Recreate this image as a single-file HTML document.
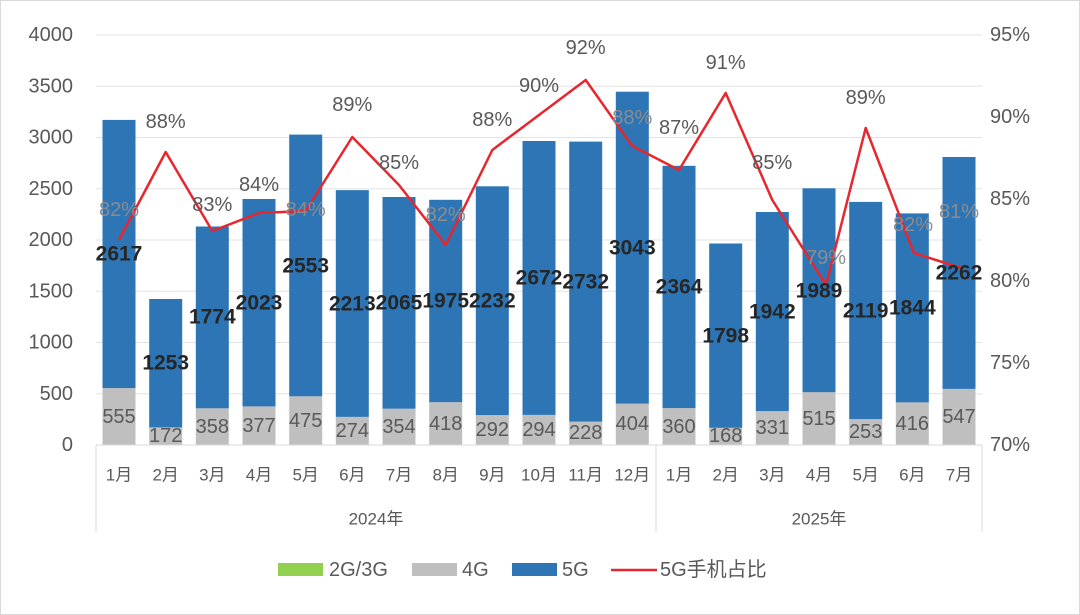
<!DOCTYPE html>
<html><head><meta charset="utf-8"><style>
html,body{margin:0;padding:0;background:#fff;}
svg{display:block;font-family:"Liberation Sans","Noto Sans CJK SC",sans-serif;}
.t{fill:#595959;font-size:20px;}
.b{fill:#262626;font-size:21px;font-weight:bold;}
.g{fill:#595959;font-size:20px;}
.p{fill:#595959;font-size:20px;}
</style></head><body>
<svg width="1080" height="615" viewBox="0 0 1080 615">
<rect x="0.5" y="0.5" width="1079" height="614" fill="#fff" stroke="#d9d9d9"/>
<g stroke="#e3e3e3" stroke-width="1">
<line x1="96" y1="35" x2="982" y2="35"/><line x1="96" y1="86.3" x2="982" y2="86.3"/>
<line x1="96" y1="137.5" x2="982" y2="137.5"/><line x1="96" y1="188.8" x2="982" y2="188.8"/>
<line x1="96" y1="240" x2="982" y2="240"/><line x1="96" y1="291.3" x2="982" y2="291.3"/>
<line x1="96" y1="342.5" x2="982" y2="342.5"/><line x1="96" y1="393.8" x2="982" y2="393.8"/>
</g>
<g class="t" text-anchor="end" dominant-baseline="central">
<text x="73" y="35">4000</text><text x="73" y="86.3">3500</text><text x="73" y="137.5">3000</text>
<text x="73" y="188.8">2500</text><text x="73" y="240">2000</text><text x="73" y="291.3">1500</text>
<text x="73" y="342.5">1000</text><text x="73" y="393.8">500</text><text x="73" y="445">0</text>
</g>
<g class="t" dominant-baseline="central">
<text x="990" y="35">95%</text><text x="990" y="117">90%</text><text x="990" y="199">85%</text>
<text x="990" y="281">80%</text><text x="990" y="363">75%</text><text x="990" y="445">70%</text>
</g>
<g fill="#bfbfbf">
<rect x="102.5" y="388.1" width="33" height="56.9"/><rect x="149.2" y="427.4" width="33" height="17.6"/>
<rect x="195.8" y="408.3" width="33" height="36.7"/><rect x="242.5" y="406.4" width="33" height="38.6"/>
<rect x="289.2" y="396.3" width="33" height="48.7"/><rect x="335.8" y="416.9" width="33" height="28.1"/>
<rect x="382.5" y="408.7" width="33" height="36.3"/><rect x="429.2" y="402.2" width="33" height="42.8"/>
<rect x="475.8" y="415.1" width="33" height="29.9"/><rect x="522.5" y="414.9" width="33" height="30.1"/>
<rect x="569.2" y="421.6" width="33" height="23.4"/><rect x="615.8" y="403.6" width="33" height="41.4"/>
<rect x="662.5" y="408.1" width="33" height="36.9"/><rect x="709.2" y="427.8" width="33" height="17.2"/>
<rect x="755.8" y="411.1" width="33" height="33.9"/><rect x="802.5" y="392.2" width="33" height="52.8"/>
<rect x="849.2" y="419.1" width="33" height="25.9"/><rect x="895.8" y="402.4" width="33" height="42.6"/>
<rect x="942.5" y="388.9" width="33" height="56.1"/>
</g>
<g fill="#2e75b6">
<rect x="102.5" y="119.9" width="33" height="268.2"/><rect x="149.2" y="299" width="33" height="128.4"/>
<rect x="195.8" y="226.5" width="33" height="181.8"/><rect x="242.5" y="199" width="33" height="207.4"/>
<rect x="289.2" y="134.6" width="33" height="261.7"/><rect x="335.8" y="190.1" width="33" height="226.8"/>
<rect x="382.5" y="197" width="33" height="211.7"/><rect x="429.2" y="199.8" width="33" height="202.4"/>
<rect x="475.8" y="186.3" width="33" height="228.8"/><rect x="522.5" y="141" width="33" height="273.9"/>
<rect x="569.2" y="141.6" width="33" height="280"/><rect x="615.8" y="91.7" width="33" height="311.9"/>
<rect x="662.5" y="165.8" width="33" height="242.3"/><rect x="709.2" y="243.5" width="33" height="184.3"/>
<rect x="755.8" y="212" width="33" height="199.1"/><rect x="802.5" y="188.3" width="33" height="203.9"/>
<rect x="849.2" y="201.9" width="33" height="217.2"/><rect x="895.8" y="213.4" width="33" height="189"/>
<rect x="942.5" y="157" width="33" height="231.9"/>
</g>
<line x1="96" y1="445" x2="982" y2="445" stroke="#d9d9d9"/>
<g stroke="#d9d9d9"><line x1="96" y1="445" x2="96" y2="532"/><line x1="656" y1="445" x2="656" y2="532"/><line x1="982" y1="445" x2="982" y2="532"/></g>
<polyline fill="none" stroke="#e8262d" stroke-width="2.5" stroke-linejoin="round" points="119,240 165.7,152 212.3,231 259,213 305.7,211 352.3,137 399,185 445.7,245 492.3,150 539,115 585.7,80 632.3,146 679,170 725.7,93 772.3,200 826,285 865.7,128 914,253 961,268"/>
<g class="p" text-anchor="middle" dominant-baseline="central">
<text x="119" y="210" fill="#8c8c8c">82%</text><text x="165.7" y="122">88%</text><text x="212.3" y="205">83%</text>
<text x="259" y="185">84%</text><text x="305.7" y="210" fill="#8c8c8c">84%</text><text x="352.3" y="105">89%</text>
<text x="399" y="163">85%</text><text x="445.7" y="215" fill="#8c8c8c">82%</text><text x="492.3" y="120">88%</text>
<text x="539" y="86">90%</text><text x="585.7" y="48">92%</text><text x="632.3" y="118" fill="#8c8c8c">88%</text>
<text x="679" y="128">87%</text><text x="725.7" y="63">91%</text><text x="772.3" y="163">85%</text>
<text x="826" y="258" fill="#8c8c8c">79%</text><text x="865.7" y="98">89%</text><text x="913" y="225" fill="#8c8c8c">82%</text>
<text x="959" y="212" fill="#8c8c8c">81%</text>
</g>
<g class="b" text-anchor="middle" dominant-baseline="central">
<text x="119" y="254">2617</text><text x="165.7" y="363">1253</text><text x="212.3" y="317">1774</text>
<text x="259" y="303">2023</text><text x="305.7" y="266">2553</text><text x="352.3" y="304">2213</text>
<text x="399" y="303">2065</text><text x="445.7" y="301">1975</text><text x="492.3" y="301">2232</text>
<text x="539" y="278">2672</text><text x="585.7" y="282">2732</text><text x="632.3" y="248">3043</text>
<text x="679" y="287">2364</text><text x="725.7" y="336">1798</text><text x="772.3" y="312">1942</text>
<text x="819" y="291">1989</text><text x="865.7" y="311">2119</text><text x="912.3" y="308">1844</text>
<text x="959" y="273">2262</text>
</g>
<g class="g" text-anchor="middle" dominant-baseline="central">
<text x="119" y="417">555</text><text x="165.7" y="436">172</text><text x="212.3" y="427">358</text>
<text x="259" y="426">377</text><text x="305.7" y="421">475</text><text x="352.3" y="431">274</text>
<text x="399" y="427">354</text><text x="445.7" y="424">418</text><text x="492.3" y="430">292</text>
<text x="539" y="430">294</text><text x="585.7" y="433">228</text><text x="632.3" y="424">404</text>
<text x="679" y="427">360</text><text x="725.7" y="436">168</text><text x="772.3" y="428">331</text>
<text x="819" y="419">515</text><text x="865.7" y="432">253</text><text x="912.3" y="424">416</text>
<text x="959" y="417">547</text>
</g>
<g class="t" text-anchor="middle" dominant-baseline="central" style="font-size:17px">
<text x="119" y="475">1月</text><text x="165.7" y="475">2月</text><text x="212.3" y="475">3月</text>
<text x="259" y="475">4月</text><text x="305.7" y="475">5月</text><text x="352.3" y="475">6月</text>
<text x="399" y="475">7月</text><text x="445.7" y="475">8月</text><text x="492.3" y="475">9月</text>
<text x="539" y="475">10月</text><text x="585.7" y="475">11月</text><text x="632.3" y="475">12月</text>
<text x="679" y="475">1月</text><text x="725.7" y="475">2月</text><text x="772.3" y="475">3月</text>
<text x="819" y="475">4月</text><text x="865.7" y="475">5月</text><text x="912.3" y="475">6月</text>
<text x="959" y="475">7月</text>
<text x="376" y="519">2024年</text><text x="819" y="519">2025年</text>
</g>
<rect x="278" y="563" width="45" height="13" fill="#92d050"/>
<rect x="412" y="563" width="45" height="13" fill="#bfbfbf"/>
<rect x="512" y="563" width="45" height="13" fill="#2e75b6"/>
<line x1="611" y1="570" x2="657" y2="570" stroke="#e8262d" stroke-width="2.5"/>
<g class="t" dominant-baseline="central">
<text x="329" y="570">2G/3G</text><text x="462" y="570">4G</text><text x="562" y="570">5G</text><text x="660" y="570">5G手机占比</text>
</g>
</svg>
</body></html>
